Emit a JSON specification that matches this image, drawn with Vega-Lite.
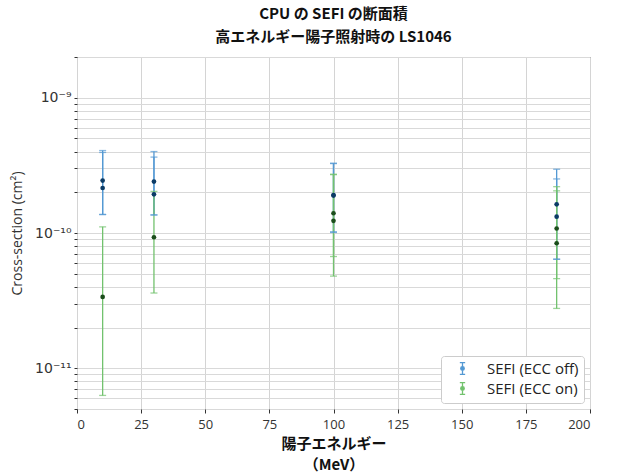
{
  "$schema": "https://vega.github.io/schema/vega-lite/v6.json",
  "autosize": {"type": "none"},
  "padding": {"left": 77, "top": 57, "right": 28, "bottom": 64},
  "width": 513,
  "height": 352,
  "background": "white",
  "title": {
    "text": ["CPU の SEFI の断面積", "高エネルギー陽子照射時の LS1046"],
    "font": "Noto Sans CJK JP",
    "fontSize": 15,
    "fontWeight": "bold",
    "color": "#111",
    "anchor": "middle",
    "lineHeight": 23,
    "offset": 5
  },
  "data": {
    "values": [
      {"series": "SEFI (ECC off)", "energy": 10, "value": 2.44e-10, "low": 1.37e-10, "high": 4.07e-10},
      {"series": "SEFI (ECC off)", "energy": 10, "value": 2.15e-10, "low": 1.37e-10, "high": 3.94e-10},
      {"series": "SEFI (ECC off)", "energy": 30, "value": 2.40e-10, "low": 1.36e-10, "high": 4.0e-10},
      {"series": "SEFI (ECC off)", "energy": 30, "value": 1.93e-10, "low": 1.36e-10, "high": 3.64e-10},
      {"series": "SEFI (ECC off)", "energy": 100, "value": 1.91e-10, "low": 1.02e-10, "high": 3.28e-10},
      {"series": "SEFI (ECC off)", "energy": 100, "value": 1.89e-10, "low": 1.01e-10, "high": 3.26e-10},
      {"series": "SEFI (ECC off)", "energy": 187, "value": 1.63e-10, "low": 6.4e-11, "high": 2.96e-10},
      {"series": "SEFI (ECC off)", "energy": 187, "value": 1.32e-10, "low": 6.4e-11, "high": 2.51e-10},
      {"series": "SEFI (ECC on)", "energy": 10, "value": 3.37e-11, "low": 6.3e-12, "high": 1.11e-10},
      {"series": "SEFI (ECC on)", "energy": 30, "value": 9.3e-11, "low": 3.6e-11, "high": 2.03e-10},
      {"series": "SEFI (ECC on)", "energy": 100, "value": 1.40e-10, "low": 6.7e-11, "high": 2.72e-10},
      {"series": "SEFI (ECC on)", "energy": 100, "value": 1.23e-10, "low": 4.8e-11, "high": 2.70e-10},
      {"series": "SEFI (ECC on)", "energy": 187, "value": 1.08e-10, "low": 4.6e-11, "high": 2.20e-10},
      {"series": "SEFI (ECC on)", "energy": 187, "value": 8.4e-11, "low": 2.77e-11, "high": 2.05e-10}
    ]
  },
  "encoding": {
    "x": {
      "field": "energy",
      "type": "quantitative",
      "scale": {"domain": [0, 200], "nice": false, "zero": false},
      "axis": {
        "values": [0, 25, 50, 75, 100, 125, 150, 175, 200],
        "title": ["陽子エネルギー", "（MeV）"],
        "titleFont": "Noto Sans CJK JP",
        "titleFontSize": 15,
        "titleFontWeight": "bold",
        "titleColor": "#111",
        "titleLineHeight": 21,
        "titlePadding": 5,
        "labelFont": "Open Sans",
        "labelFontSize": 13,
        "labelColor": "#333",
        "labelPadding": 5,
        "tickSize": 4,
        "tickColor": "#333",
        "domain": false,
        "gridColor": "#d4d4d4",
        "gridWidth": 1
      }
    }
  },
  "layer": [
    {
      "mark": {"type": "rule", "strokeWidth": 1.3},
      "encoding": {
        "y": {
          "field": "low",
          "type": "quantitative",
          "scale": {"type": "log", "domain": [5e-12, 2e-9], "nice": false},
          "axis": {
            "values": [5e-12, 6e-12, 7e-12, 8e-12, 9e-12, 1e-11, 2e-11, 3e-11, 4e-11, 5e-11, 6e-11, 7e-11, 8e-11, 9e-11, 1e-10, 2e-10, 3e-10, 4e-10, 5e-10, 6e-10, 7e-10, 8e-10, 9e-10, 1e-9, 2e-9],
            "labelExpr": "abs(log(datum.value)/LN10 - round(log(datum.value)/LN10)) < 0.001 ? (round(log(datum.value)/LN10) == -9 ? '10⁻⁹' : round(log(datum.value)/LN10) == -10 ? '10⁻¹⁰' : '10⁻¹¹') : ''",
            "title": "Cross-section (cm²)",
            "titleFont": "Open Sans",
            "titleFontSize": 14,
            "titleFontWeight": "normal",
            "titleColor": "#333",
            "titlePadding": 10,
            "labelFont": "DejaVu Sans",
            "labelFontSize": 14,
            "labelColor": "#333",
            "labelPadding": 3,
            "labelOverlap": false,
            "tickSize": 3,
            "tickColor": "#333",
            "domain": false,
            "gridColor": "#d9d9d9",
            "gridWidth": 1
          }
        },
        "y2": {"field": "high"},
        "color": {
          "field": "series",
          "type": "nominal",
          "scale": {"domain": ["SEFI (ECC off)", "SEFI (ECC on)"], "range": ["#5499d3", "#72c26e"]},
          "legend": {
            "title": null,
            "orient": "bottom-right",
            "offset": 6,
            "fillColor": "white",
            "strokeColor": "#cccccc",
            "cornerRadius": 3,
            "padding": 5,
            "symbolOffset": 9,
            "labelFont": "Open Sans",
            "labelFontSize": 15,
            "labelColor": "#222",
            "labelOffset": 17,
            "rowPadding": 1,
            "symbolSize": 140,
            "symbolStrokeWidth": 1.3,
            "symbolType": "M0,-1L0,1M-0.45,-1L0.45,-1M-0.45,1L0.45,1M0.3,0A0.3,0.3,0,1,1,-0.3,0A0.3,0.3,0,1,1,0.3,0Z",
            "encode": {
              "symbols": {
                "update": {
                  "fill": {"signal": "datum.value == 'SEFI (ECC off)' ? '#0b3b66' : '#1b4d1b'"},
                  "fillOpacity": {"value": 1}
                }
              }
            }
          }
        }
      }
    },
    {
      "mark": {"type": "tick", "orient": "horizontal", "size": 7, "thickness": 1.3},
      "encoding": {
        "y": {"field": "low", "type": "quantitative"},
        "color": {"field": "series", "type": "nominal", "legend": null}
      }
    },
    {
      "mark": {"type": "tick", "orient": "horizontal", "size": 7, "thickness": 1.3},
      "encoding": {
        "y": {"field": "high", "type": "quantitative"},
        "color": {"field": "series", "type": "nominal", "legend": null}
      }
    },
    {
      "mark": {"type": "point", "filled": true, "size": 22, "opacity": 1},
      "encoding": {
        "y": {"field": "value", "type": "quantitative"},
        "fill": {
          "field": "series",
          "type": "nominal",
          "scale": {"domain": ["SEFI (ECC off)", "SEFI (ECC on)"], "range": ["#0b3b66", "#1b4d1b"]},
          "legend": null
        }
      }
    }
  ],
  "config": {
    "view": {"stroke": "#444", "strokeWidth": 1},
    "axis": {"gridOpacity": 1}
  }
}
